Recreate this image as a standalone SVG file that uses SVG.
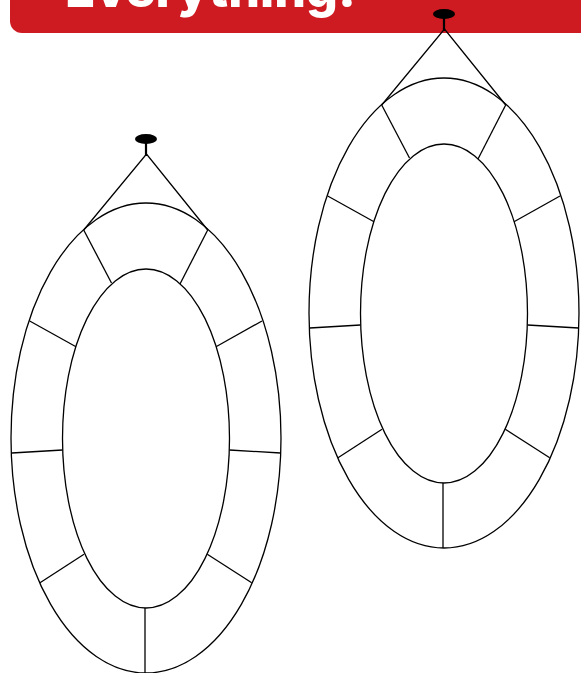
<svg xmlns="http://www.w3.org/2000/svg" xmlns:xlink="http://www.w3.org/1999/xlink" width="581" height="673" viewBox="0 0 581 673">
<style>
.ln{fill:none;stroke:#000;stroke-width:1.3}
.title{font-family:Inter,"Noto Sans",sans-serif;font-weight:800;font-size:50px;fill:#fff}
</style>
<defs>
<g id="pendant">
<ellipse cx="146" cy="139" rx="11" ry="5" fill="#000"/>
<line x1="146" y1="142" x2="146" y2="156" stroke="#000" stroke-width="2.2"/>
<g class="ln">
<polyline points="83.7,230 146.5,154 207.7,230"/>
<ellipse cx="146" cy="438" rx="135" ry="235"/>
<ellipse cx="146" cy="438.5" rx="83.5" ry="169.5"/>
<line x1="83.7" y1="230" x2="111.5" y2="283"/>
<line x1="207.7" y1="230" x2="180" y2="284"/>
<line x1="29.7" y1="321" x2="76" y2="346.7"/>
<line x1="262" y1="321" x2="216" y2="346.7"/>
<line x1="11.7" y1="453" x2="62.5" y2="450"/>
<line x1="280.5" y1="453" x2="229.5" y2="450"/>
<line x1="40" y1="582.7" x2="84" y2="554.3"/>
<line x1="251.7" y1="582.7" x2="207.3" y2="554.3"/>
<line x1="145" y1="608" x2="145" y2="673"/>
</g>
</g>
</defs>
<g id="banner">
<path d="M10,-5 H590 V33 H22 A12,12 0 0 1 10,21 Z" fill="#ce1a21"/>
<text class="title" x="65" y="7">Everything!</text>
</g>
<g id="pendant-left"><use xlink:href="#pendant"/></g>
<g id="pendant-right" transform="translate(298,-125)"><use xlink:href="#pendant"/></g>
<g id="connectors"></g>
</svg>
